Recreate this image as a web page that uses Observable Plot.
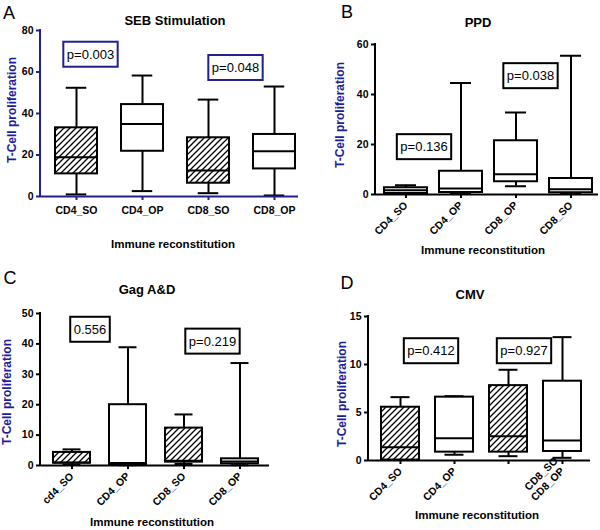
<!DOCTYPE html>
<html><head><meta charset="utf-8">
<script src="https://cdn.jsdelivr.net/npm/d3@7"></script>
<script src="https://cdn.jsdelivr.net/npm/@observablehq/plot@0.6"></script>
<style>
body{margin:0;background:#fff}
#root{position:relative;width:600px;height:530px;background:#fff;font-family:"Liberation Sans",Arial,sans-serif;overflow:hidden}
.panel{position:absolute}
.lbl{position:absolute;transform:translate(-50%,-50%);white-space:nowrap;color:#000;line-height:1}
.letter{font-size:18px}
.title{font-size:13px;font-weight:bold}
.xlab{font-size:11.5px;font-weight:bold}
.ylab{font-size:12px;font-weight:bold;color:#1c1c9c;transform:translate(-50%,-50%) rotate(-90deg)}
</style></head>
<body>
<svg width="0" height="0" style="position:absolute"><defs>
<pattern id="hatch" patternUnits="userSpaceOnUse" width="6" height="6">
<rect width="6" height="6" fill="white"/>
<path d="M-1,1 l2,-2 M0,6 l6,-6 M5,7 l2,-2" stroke="black" stroke-width="1.3"/>
</pattern></defs></svg>
<div id="root"></div>
<script>
// ---- Panel A: SEB Stimulation ----
const catsA = ["CD4_SO","CD4_OP","CD8_SO","CD8_OP"];
const minA = [1.0, 2.6, 1.6, 0.5];
const q1A  = [10.9, 21.8, 6.4, 13.3];
const medA = [18.9, 35.0, 12.5, 21.8];
const q3A  = [33.1, 44.3, 28.3, 29.9];
const maxA = [52.4, 58.3, 46.7, 53.0];
const hatchA = [true, false, true, false];
const pTextA = ["p=0.003", "p=0.048"];
const pCatA = ["CD4_SO", "CD8_SO"];
const pYA = [68.4, 62];
const yTicksA = [0, 20, 40, 60, 80];

// ---- Panel B: PPD ----
const catsB = ["CD4_SO","CD4_OP","CD8_OP","CD8_SO"];
const minB = [0.2, 0.3, 3.3, 0.3];
const q1B  = [0.4, 0.8, 5.1, 0.7];
const medB = [1.7, 2.4, 8.1, 2.1];
const q3B  = [2.7, 9.3, 21.5, 6.4];
const maxB = [3.7, 44.6, 32.8, 55.5];
const hatchB = [false, false, false, false];
const pTextB = ["p=0.136", "p=0.038"];
const pCatB = ["CD4_SO", "CD8_OP"];
const pYB = [19, 47.4];
const yTicksB = [0, 20, 40, 60];

// ---- Panel C: Gag A&D ----
const catsC = ["cd4_SO","CD4_OP","CD8_SO","CD8_OP"];
const minC = [0.3, 0.1, 0.5, 0.1];
const q1C  = [0.75, 0.3, 1.1, 0.55];
const medC = [1.0, 0.8, 1.6, 1.3];
const q3C  = [4.3, 20.0, 12.3, 2.2];
const maxC = [5.3, 38.9, 16.8, 33.7];
const hatchC = [true, false, true, false];
const pTextC = ["0.556", "p=0.219"];
const pCatC = ["cd4_SO", "CD8_SO"];
const pYC = [44.7, 40.8];
const yTicksC = [0, 10, 20, 30, 40, 50];

// ---- Panel D: CMV ----
const catsD = ["CD4_SO","CD4_OP","CD8_SO","CD8_OP"];
const minD = [0.05, 0.6, 0.45, 0.28];
const q1D  = [0.05, 0.87, 0.87, 0.94];
const medD = [1.39, 2.33, 2.53, 2.08];
const q3D  = [5.55, 6.6, 7.8, 8.26];
const maxD = [6.6, 6.7, 9.45, 12.85];
const hatchD = [true, false, true, false];
const pTextD = ["p=0.412", "p=0.927"];
const pCatD = ["CD4_SO", "CD8_SO"];
const pYD = [11.4, 11.4];
const yTicksD = [0, 5, 10, 15];

const BLUE = "#20208f";
const root = document.getElementById("root");

function rows(cats, mn, q1, md, q3, mx, h) {
  return cats.map((c, i) => ({cat: c, min: mn[i], q1: q1[i], med: md[i], q3: q3[i], max: mx[i], hatch: h[i]}));
}

function panel(cfg) {
  const {left, top, width, height, mL, mT, mB, mR, cats, data, yTicks, range, pi, rotate, axisColor, pColor, pText, pCat, pY, pDx, tickFormat, extra} = cfg;
  const step = (range[1] - range[0]) / (cats.length - pi);
  const bw = step * (1 - pi);
  const inset = bw / 4;
  const marks = [
    Plot.ruleX(data, {x: "cat", y1: "min", y2: "max", stroke: "black", strokeWidth: 2}),
    Plot.barY(data.filter(d => !d.hatch), {x: "cat", y1: "q1", y2: "q3", fill: "white", stroke: "black", strokeWidth: 2}),
    Plot.barY(data.filter(d => d.hatch), {x: "cat", y1: "q1", y2: "q3", fill: "url(#hatch)", stroke: "black", strokeWidth: 2}),
    Plot.tickY(data, {x: "cat", y: "med", stroke: "black", strokeWidth: 2}),
    Plot.tickY(data, {x: "cat", y: "min", stroke: "black", strokeWidth: 2, insetLeft: inset, insetRight: inset}),
    Plot.tickY(data, {x: "cat", y: "max", stroke: "black", strokeWidth: 2, insetLeft: inset, insetRight: inset}),
    Plot.ruleY([0], {stroke: axisColor, strokeWidth: 2}),
    Plot.axisY({ticks: yTicks, tickSize: 4, tickPadding: 3, stroke: axisColor, strokeWidth: 2, fill: "black", label: null}),
    Plot.axisX({tickSize: 4, tickPadding: rotate ? 5 : 6, tickRotate: rotate, stroke: axisColor, strokeWidth: 2, fill: "black", label: null, tickFormat: tickFormat || (d => d)}),
    ...pText.map((t, i) => Plot.text([t], {x: () => pCat[i], y: () => pY[i], text: d => d, dx: pDx[i], fontSize: 13, fontWeight: "normal", fill: "black", className: "pbox"}))
  ];
  if (extra) marks.push(extra);
  const plot = Plot.plot({
    width, height, marginLeft: mL, marginTop: mT, marginBottom: mB, marginRight: mR,
    x: {type: "band", domain: cats, range, paddingInner: pi, paddingOuter: 0},
    y: {domain: [0, yTicks[yTicks.length - 1]]},
    style: {fontFamily: "Liberation Sans, Arial, sans-serif", fontSize: "10.5px", fontWeight: "bold", background: "transparent", overflow: "visible"},
    marks
  });
  const wrap = document.createElement("div");
  wrap.className = "panel";
  wrap.style.left = left + "px";
  wrap.style.top = top + "px";
  wrap.appendChild(plot);
  root.appendChild(wrap);
  const svg = d3.select(plot);
  const ys = plot.scale("y");
  svg.append("line")
    .attr("x1", mL).attr("x2", mL)
    .attr("y1", ys.apply(yTicks[yTicks.length - 1]) - 1)
    .attr("y2", ys.apply(0) + 1)
    .attr("stroke", axisColor).attr("stroke-width", 2);
  svg.selectAll("g.pbox text").each(function() {
    const b = this.getBBox();
    d3.select(this.parentNode).insert("rect", () => this)
      .attr("transform", this.getAttribute("transform"))
      .attr("x", b.x - 3.5).attr("y", b.y + b.height / 2 - 12.5)
      .attr("width", b.width + 7).attr("height", 25)
      .attr("fill", "white").attr("stroke", pColor).attr("stroke-width", 2);
  });
}

panel({left: 0, top: 0, width: 300, height: 265, mL: 40, mT: 30, mB: 69, mR: 2,
  cats: catsA, data: rows(catsA, minA, q1A, medA, q3A, maxA, hatchA), yTicks: yTicksA,
  range: [53.5, 297.5], pi: 0.358, rotate: 0, axisColor: BLUE, pColor: BLUE,
  pText: pTextA, pCat: pCatA, pY: pYA, pDx: [14, 27]});

panel({left: 300, top: 0, width: 300, height: 265, mL: 75, mT: 44, mB: 71, mR: 2,
  cats: catsB, data: rows(catsB, minB, q1B, medB, q3B, maxB, hatchB), yTicks: yTicksB,
  range: [82, 294], pi: 0.214, rotate: -45, axisColor: "black", pColor: "black",
  pText: pTextB, pCat: pCatB, pY: pYB, pDx: [18, 14.5]});

panel({left: 0, top: 265, width: 300, height: 265, mL: 40, mT: 48, mB: 65, mR: 31,
  cats: catsC, data: rows(catsC, minC, q1C, medC, q3C, maxC, hatchC), yTicks: yTicksC,
  range: [51, 260], pi: 0.333, rotate: -45, axisColor: "black", pColor: "black",
  pText: pTextC, pCat: pCatC, pY: pYC, pDx: [18, 28.5]});

panel({left: 300, top: 265, width: 300, height: 265, mL: 68, mT: 51, mB: 70, mR: 10,
  cats: catsD, data: rows(catsD, minD, q1D, medD, q3D, maxD, hatchD), yTicks: yTicksD,
  range: [80, 281], pi: 0.3, rotate: -45, axisColor: "black", pColor: "black",
  pText: pTextD, pCat: pCatD, pY: pYD, pDx: [30.5, 15.5],
  tickFormat: d => d === "CD8_SO" ? "" : d,
  extra: Plot.text(["CD8_SO"], {x: () => "CD8_OP", frameAnchor: "bottom", text: d => d, rotate: -45, textAnchor: "end", dx: -4, dy: 1, fill: "black"})});

// ---- HTML labels ----
const labels = [
  ["A", "letter", 9, 13], ["SEB Stimulation", "title", 175, 20], ["Immune reconstitution", "xlab", 173, 245], ["T-Cell proliferation", "ylab", 12, 110],
  ["B", "letter", 347, 12], ["PPD", "title", 478, 22], ["Immune reconstitution", "xlab", 483, 251], ["T-Cell proliferation", "ylab", 340, 115],
  ["C", "letter", 10, 278], ["Gag A&D", "title", 147, 289], ["Immune reconstitution", "xlab", 152, 523], ["T-Cell proliferation", "ylab", 7, 392],
  ["D", "letter", 347, 283], ["CMV", "title", 470, 294], ["Immune reconstitution", "xlab", 477, 516], ["T-Cell proliferation", "ylab", 342, 394]
];
for (const [t, cls, x, y] of labels) {
  const el = document.createElement("div");
  el.className = "lbl " + cls;
  el.textContent = t;
  el.style.left = x + "px";
  el.style.top = y + "px";
  root.appendChild(el);
}
</script>
</body></html>
